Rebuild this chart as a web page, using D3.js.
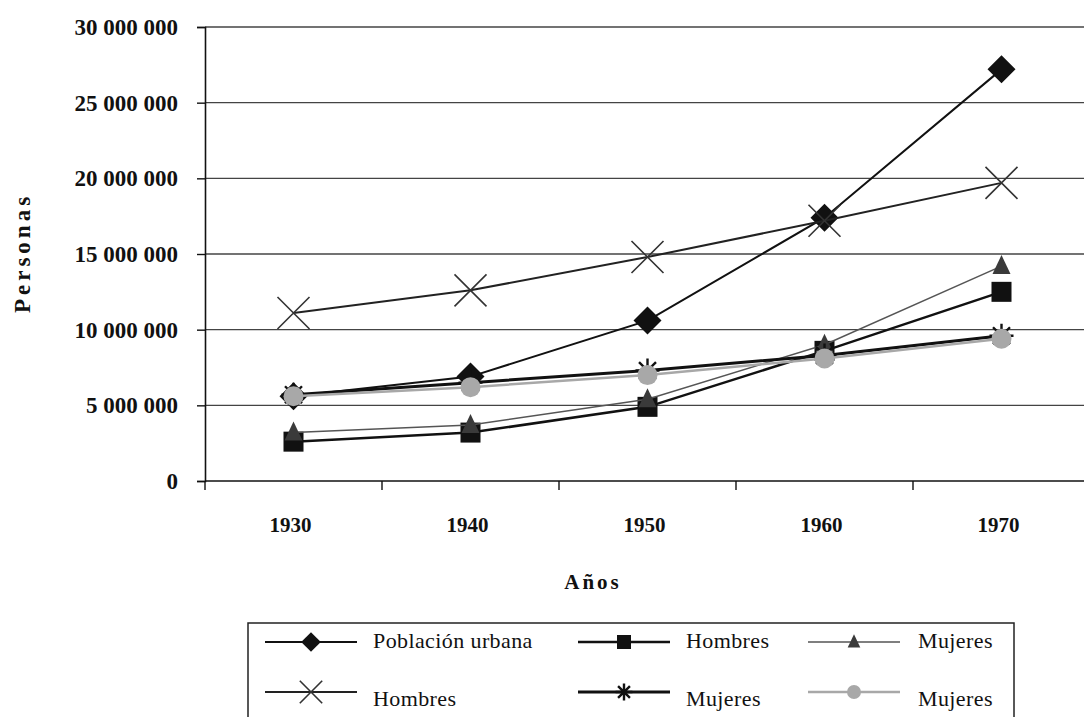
<!DOCTYPE html>
<html>
<head>
<meta charset="utf-8">
<script src="https://cdn.jsdelivr.net/npm/d3@7"></script>
<style>
	body { margin: 0; background: #fff; }
	svg { display: block; }
	text { font-family: "Liberation Serif", "DejaVu Serif", serif; fill: #111; }
</style>
</head>
<body>
<div id="chart"></div>
<script>
// datos (personas)
const years = ['1930', '1940', '1950', '1960', '1970'];
const yTicks = [0, 5e6, 10e6, 15e6, 20e6, 25e6, 30e6];
const poblacionUrbana = [5.6e6, 6.9e6, 10.6e6, 17.4e6, 27.2e6];
const hombresCuadro = [2.6e6, 3.2e6, 4.9e6, 8.6e6, 12.5e6];
const mujeresTriangulo = [3.2e6, 3.7e6, 5.4e6, 9.0e6, 14.2e6];
const hombresCruz = [11.1e6, 12.6e6, 14.8e6, 17.2e6, 19.7e6];
const mujeresAsterisco = [5.7e6, 6.5e6, 7.3e6, 8.3e6, 9.6e6];
const mujeresCirculo = [5.6e6, 6.2e6, 7.0e6, 8.1e6, 9.4e6];
const seriesNames = ['Población urbana', 'Hombres', 'Mujeres', 'Hombres', 'Mujeres', 'Mujeres'];

const W = 1084, H = 717;
const svg = d3.select('#chart').append('svg').attr('width', W).attr('height', H);

const x = d3.scaleBand().domain(years).range([205, 1090]).padding(0);
const y = d3.scaleLinear().domain([0, 30e6]).range([481, 27]);

const fmt = v => d3.format(',')(v).replace(/,/g, ' ');

// estilo de cada serie
const series = [
	{name: seriesNames[0], values: poblacionUrbana, stroke: '#111', width: 2, symbol: 'diamond', fill: '#111'},
	{name: seriesNames[1], values: hombresCuadro, stroke: '#111', width: 2.5, symbol: 'square', fill: '#111'},
	{name: seriesNames[2], values: mujeresTriangulo, stroke: '#555', width: 1.5, symbol: 'triangle', fill: '#3a3a3a'},
	{name: seriesNames[3], values: hombresCruz, stroke: '#222', width: 2, symbol: 'cross', fill: 'none'},
	{name: seriesNames[4], values: mujeresAsterisco, stroke: '#111', width: 3, symbol: 'star', fill: 'none'},
	{name: seriesNames[5], values: mujeresCirculo, stroke: '#a8a8a8', width: 2.5, symbol: 'circle', fill: '#a8a8a8'}
];

// k: factor de escala del marcador (leyenda mas pequeña)
function drawSymbol (g, s, cx, cy, k = 1) {
	if (s.symbol === 'diamond') {
		let r = 14 * k;
		g.append('path').attr('d', `M${cx},${cy - r}L${cx + r},${cy}L${cx},${cy + r}L${cx - r},${cy}Z`).attr('fill', s.fill);
	} else if (s.symbol === 'square') {
		let r = 10 * k;
		g.append('rect').attr('x', cx - r).attr('y', cy - r).attr('width', 2 * r).attr('height', 2 * r).attr('fill', s.fill);
	} else if (s.symbol === 'triangle') {
		g.append('path').attr('d', `M${cx},${cy - 11 * k}L${cx + 9 * k},${cy + 8 * k}L${cx - 9 * k},${cy + 8 * k}Z`).attr('fill', s.fill);
	} else if (s.symbol === 'cross') {
		let r = 16 * k;
		g.append('path').attr('d', `M${cx - r},${cy - r}L${cx + r},${cy + r}M${cx - r},${cy + r}L${cx + r},${cy - r}`)
			.attr('stroke', '#333').attr('stroke-width', 1.6).attr('fill', 'none');
	} else if (s.symbol === 'star') {
		let r = 12 * k, p = '';
		for (let i = 0; i < 4; i++) {
			let a = i * Math.PI / 4;
			p += `M${cx - r * Math.cos(a)},${cy - r * Math.sin(a)}L${cx + r * Math.cos(a)},${cy + r * Math.sin(a)}`;
		}
		g.append('path').attr('d', p).attr('stroke', '#111').attr('stroke-width', 2.4).attr('fill', 'none');
	} else if (s.symbol === 'circle') {
		g.append('circle').attr('cx', cx).attr('cy', cy).attr('r', 10 * k).attr('fill', s.fill);
	}
}

// rejilla
svg.append('g').selectAll('line').data(yTicks.slice(1)).enter().append('line')
	.attr('x1', 205).attr('x2', W).attr('y1', d => y(d)).attr('y2', d => y(d))
	.attr('stroke', '#444').attr('stroke-width', 1.4);

// eje y
const yAxis = svg.append('g').attr('transform', 'translate(205,0)')
	.call(d3.axisLeft(y).tickValues(yTicks).tickSize(8).tickPadding(19).tickFormat(fmt));
yAxis.select('.domain').attr('stroke', '#111').attr('stroke-width', 1.6);
yAxis.selectAll('.tick line').attr('stroke', '#111').attr('stroke-width', 1.4);
yAxis.selectAll('.tick text').attr('font-size', 23).attr('font-weight', 'bold').attr('fill', '#111')
	.attr('font-family', '"Liberation Serif", serif');

// eje x
svg.append('line').attr('x1', 205).attr('x2', W).attr('y1', y(0)).attr('y2', y(0))
	.attr('stroke', '#111').attr('stroke-width', 1.6);
svg.append('g').selectAll('line').data(years).enter().append('line')
	.attr('x1', d => x(d)).attr('x2', d => x(d)).attr('y1', y(0)).attr('y2', y(0) + 9)
	.attr('stroke', '#111').attr('stroke-width', 1.4);
svg.append('g').selectAll('text').data(years).enter().append('text')
	.attr('x', d => x(d) + x.bandwidth() / 2 - 3).attr('y', 532)
	.attr('text-anchor', 'middle').attr('font-size', 21).attr('font-weight', 'bold').text(d => d);

// titulos de ejes
svg.append('text').attr('transform', 'translate(30,253) rotate(-90)').attr('text-anchor', 'middle')
	.attr('font-size', 23).attr('font-weight', 'bold').attr('letter-spacing', 4).text('Personas');
svg.append('text').attr('x', 593).attr('y', 589).attr('text-anchor', 'middle')
	.attr('font-size', 21).attr('font-weight', 'bold').attr('letter-spacing', 3).text('Años');

// lineas y marcadores
const line = d3.line().x((d, i) => x(years[i]) + x.bandwidth() / 2).y(d => y(d));
series.forEach(s => {
	let g = svg.append('g');
	g.append('path').datum(s.values).attr('d', line).attr('fill', 'none')
		.attr('stroke', s.stroke).attr('stroke-width', s.width);
	s.values.forEach((v, i) => drawSymbol(g, s, x(years[i]) + x.bandwidth() / 2, y(v)));
});

// leyenda
const legend = svg.append('g');
legend.append('rect').attr('x', 248).attr('y', 623).attr('width', 766).attr('height', 110)
	.attr('fill', 'none').attr('stroke', '#222').attr('stroke-width', 1.5);
const colX = [265, 578, 808];
const textX = [373, 686, 918];
const rowY = [642, 692];
series.forEach((s, i) => {
	let col = i % 3, row = Math.floor(i / 3);
	let g = legend.append('g');
	let lx = colX[col], ly = rowY[row];
	g.append('line').attr('x1', lx).attr('x2', lx + 92).attr('y1', ly).attr('y2', ly)
		.attr('stroke', s.stroke).attr('stroke-width', s.width);
	drawSymbol(g, s, lx + 46, ly, 0.7);
	g.append('text').attr('x', textX[col]).attr('y', ly + (row ? 14 : 6)).attr('font-size', 22)
		.attr('letter-spacing', 0.4).text(s.name);
});
</script>
</body>
</html>
